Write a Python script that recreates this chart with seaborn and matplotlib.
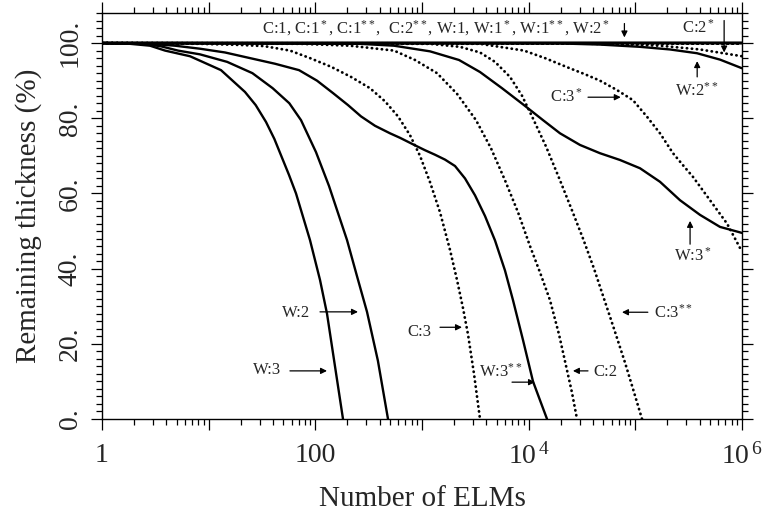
import numpy as np
import pandas as pd
import matplotlib
matplotlib.use("Agg")
import matplotlib.pyplot as plt
import seaborn as sns
from matplotlib.ticker import LogLocator, NullFormatter, MultipleLocator, FixedLocator

# ---------------- data ----------------
flat_n = [1, 1e6]
flat_y = [100, 100]

w3_n = [1, 1.83, 2.82, 3.90, 6.68, 13.05, 21.9, 27.6, 34.5, 41.3, 48.7, 56.5, 65.9,
        89.1, 110.6, 128.7, 152.9, 181.7]
w3_y = [100, 99.8, 99.3, 98, 96.5, 92.8, 87, 83.5, 79.0, 74.5, 69.5, 65, 60,
        47.6, 37, 28, 14, 0]

w2_n = [1, 2.27, 3.50, 5.16, 8.29, 14.9, 25.7, 39.8, 57.0, 73.4, 101.4, 134.3, 166.7,
        198.2, 245.8, 305.1, 386.0, 480]
w2_y = [100, 99.8, 99.2, 98, 97, 95, 92, 88, 84, 79.5, 71, 62, 54,
        47.6, 38, 28.5, 15.5, 0]

w3ss_n = [1, 2.82, 4.83, 8.29, 14.23, 24.4, 41.9, 70.3, 103.7, 146.4, 202.5, 268, 362.5,
          501.2, 622, 860, 1067, 1324, 1643, 2039, 2530, 3140, 3896, 4835, 5999, 7131,
          8850, 10980, 12770, 14860]
w3ss_y = [100, 99.8, 99.3, 98.5, 97.5, 96, 94.5, 92.8, 90, 86.7, 83.5, 80.5, 78,
          76, 74.8, 72.8, 71.5, 70.3, 69, 67.3, 64, 59.5, 54, 47.5, 39.5, 31.6,
          21, 10, 5, 0]

c3_n = [1, 8.29, 19.67, 33.0, 57.9, 89.1, 140.3, 216, 325.4, 450, 595.7, 771.9, 957.9,
        1189, 1475, 1830, 2129, 2423, 2700, 3073, 3498]
c3_y = [100, 99.8, 99.5, 99.2, 98, 96, 93.7, 91, 88, 84.5, 80.5, 75.5, 70,
        63, 55, 45, 37, 29.5, 22.5, 12, 0]

c2_n = [1, 71.8, 211.3, 546.6, 859.9, 1383, 2129, 3208, 4436, 5999, 7943, 10290, 12770,
        15850, 19250, 22870, 25480, 28390]
c2_y = [100, 99.8, 99.3, 98, 95.5, 92, 86.5, 79.5, 72, 63.5, 55, 46, 39,
        31.6, 22.5, 13, 7, 0]

c3ss_n = [1, 1189, 2271, 3498, 4835, 6683, 8660, 10745, 14540, 19670, 25480, 32320,
          40980, 50840, 63100, 80030, 95090, 115500]
c3ss_y = [100, 99.8, 99, 97.5, 95, 91, 86, 80.5, 72.5, 63.5, 55.5, 48,
          40, 32, 24, 15, 8, 0]

w3s_n = [1, 262.2, 546.6, 1189, 2223, 3498, 5623, 8850, 13630, 19670, 30290, 46640,
         71820, 110600, 170300, 262300, 403900, 622000, 1e6]
w3s_y = [100, 99.8, 99.3, 97.8, 95.5, 92.3, 88, 83.7, 79.5, 76, 72.9, 70.7,
         68.9, 66.7, 63.1, 58.2, 54.3, 51.1, 49.5]

c3s_n = [1, 3498, 9042, 14230, 22870, 33750, 46640, 67320, 95090, 128700, 170300,
         225500, 279900, 347200, 501200, 723300, 917500, 1e6]
c3s_y = [100, 99.8, 98, 96, 93.6, 91.7, 90, 87.5, 84.8, 80.4, 76,
         70.7, 67.5, 64.4, 58.2, 52, 46.5, 44.5]

w2ss_n = [1, 19670, 46640, 110600, 211300, 378600, 622000, 1e6]
w2ss_y = [100, 99.9, 99.6, 99, 98.3, 97.3, 95.6, 93.3]

c2s_n = [1, 30290, 170300, 403900, 1e6]
c2s_y = [100, 99.9, 99.3, 98.3, 96.5]

x_ticks = [1, 10, 100, 1e3, 1e4, 1e5, 1e6]
x_ticklabels = ["1", "", "100", "", r"$10^{\,4}$", "", r"$10^{\,6}$"]
y_ticks = [0, 20, 40, 60, 80, 100]
y_ticklabels = ["0.", "20.", "40.", "60.", "80.", "100."]

# ---------------- styling ----------------
sns.set_style("ticks")
plt.rcParams["font.family"] = ["Liberation Serif", "DejaVu Serif"]
plt.rcParams["mathtext.fontset"] = "custom"
plt.rcParams["mathtext.rm"] = "Liberation Serif"
plt.rcParams["mathtext.it"] = "Liberation Serif:italic"
plt.rcParams["mathtext.bf"] = "Liberation Serif:bold"

fig = plt.figure(figsize=(7.7, 5.16), dpi=100)
ax = fig.add_axes([102 / 770, 97 / 516, 640 / 770, 406 / 516])

SOLID = dict(color="black", lw=1.7, linestyle="-", solid_joinstyle="round")
DOT = dict(color="black", lw=2.0, linestyle=(0, (0.1, 1.7)), dash_capstyle="round")

curves = [
    ("C:1", flat_n, flat_y, DOT), ("C:1*", flat_n, flat_y, DOT),
    ("C:1**", flat_n, flat_y, DOT), ("C:2**", flat_n, flat_y, DOT),
    ("W:1", flat_n, flat_y, SOLID), ("W:1*", flat_n, flat_y, SOLID),
    ("W:1**", flat_n, flat_y, SOLID), ("W:2*", flat_n, flat_y, SOLID),
    ("W:3", w3_n, w3_y, SOLID), ("W:2", w2_n, w2_y, SOLID),
    ("W:3**", w3ss_n, w3ss_y, SOLID), ("W:3*", w3s_n, w3s_y, SOLID),
    ("W:2**", w2ss_n, w2ss_y, SOLID),
    ("C:3", c3_n, c3_y, DOT), ("C:2", c2_n, c2_y, DOT),
    ("C:3**", c3ss_n, c3ss_y, DOT), ("C:3*", c3s_n, c3s_y, DOT),
    ("C:2*", c2s_n, c2s_y, DOT),
]

for name, n, y, st in curves:
    df = pd.DataFrame({"N": n, "T": y})
    sns.lineplot(data=df, x="N", y="T", ax=ax, sort=False, estimator=None,
                 legend=False, **st)

ax.set_xscale("log")
ax.set_xlim(1, 1e6)
ax.set_ylim(0, 108)

ax.xaxis.set_major_locator(FixedLocator(x_ticks))
ax.set_xticklabels(x_ticklabels)
ax.xaxis.set_minor_locator(LogLocator(base=10, subs=np.arange(2, 10), numticks=30))
ax.xaxis.set_minor_formatter(NullFormatter())
ax.set_yticks(y_ticks)
ax.set_yticklabels(y_ticklabels, rotation=90, va="center")
ax.yaxis.set_minor_locator(MultipleLocator(2))

ax.tick_params(which="both", direction="out", top=True, right=True,
               labeltop=False, labelright=False, width=0.9, color="black")
ax.tick_params(which="major", length=8, labelsize=20)
ax.tick_params(axis="x", which="major", pad=9)
ax.tick_params(axis="y", which="major", pad=6)
ax.tick_params(which="minor", length=4)
for s in ax.spines.values():
    s.set_linewidth(1.0)
    s.set_color("black")

ax.set_xlabel("Number of ELMs", fontsize=21)
ax.set_ylabel("Remaining thickness (%)", fontsize=21)
ax.xaxis.set_label_coords(0.5, -0.165)
ax.yaxis.set_label_coords(-0.094, 0.5)

# ---------------- annotations ----------------
FS = 12
ARW = dict(arrowstyle="-|>", color="black", lw=0.9, mutation_scale=9,
           shrinkA=0, shrinkB=0)

ax.text(1350, 104, r"C:1, C:1$^*$, C:1$^{**}$,  C:2$^{**}$, W:1, W:1$^*$, W:1$^{**}$, W:2$^*$",
        fontsize=FS, ha="center", va="center")
ax.annotate("", xy=(7.9e4, 101.5), xytext=(7.9e4, 105.2), arrowprops=ARW)

ax.text(3.9e5, 104, r"C:2$^*$", fontsize=FS, ha="center", va="center")
ax.annotate("", xy=(6.8e5, 97.5), xytext=(6.8e5, 106.0), arrowprops=ARW)

ax.text(3.75e5, 87.3, r"W:2$^{**}$", fontsize=FS, ha="center", va="center")
ax.annotate("", xy=(3.8e5, 95.2), xytext=(3.8e5, 91.0), arrowprops=ARW)

ax.text(2.26e4, 85.6, r"C:3$^*$", fontsize=FS, ha="center", va="center")
ax.annotate("", xy=(7.3e4, 85.6), xytext=(3.6e4, 85.6), arrowprops=ARW)

ax.text(3.47e5, 43.4, r"W:3$^*$", fontsize=FS, ha="center", va="center")
ax.annotate("", xy=(3.26e5, 52.7), xytext=(3.26e5, 46.5), arrowprops=ARW)

ax.text(2.28e5, 28.2, r"C:3$^{**}$", fontsize=FS, ha="center", va="center")
ax.annotate("", xy=(7.5e4, 28.4), xytext=(1.31e5, 28.4), arrowprops=ARW)

ax.text(955, 23.1, "C:3", fontsize=FS, ha="center", va="center")
ax.annotate("", xy=(2370, 24.4), xytext=(1475, 24.4), arrowprops=ARW)

ax.text(5500, 12.6, r"W:3$^{**}$", fontsize=FS, ha="center", va="center")
ax.annotate("", xy=(11460, 9.8), xytext=(6980, 9.8), arrowprops=ARW)

ax.text(5.25e4, 12.6, "C:2", fontsize=FS, ha="center", va="center")
ax.annotate("", xy=(2.6e4, 12.8), xytext=(3.6e4, 12.8), arrowprops=ARW)

ax.text(65.9, 28.2, "W:2", fontsize=FS, ha="center", va="center")
ax.annotate("", xy=(251, 28.5), xytext=(110.6, 28.5), arrowprops=ARW)

ax.text(35.6, 13.0, "W:3", fontsize=FS, ha="center", va="center")
ax.annotate("", xy=(128.6, 12.8), xytext=(57.8, 12.8), arrowprops=ARW)

fig.savefig("out.png", dpi=100)
